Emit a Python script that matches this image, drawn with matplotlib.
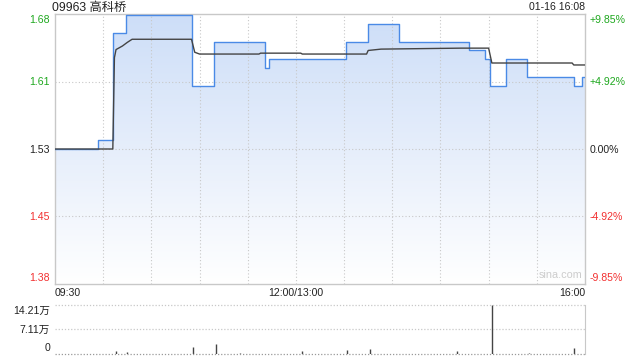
import numpy as np
import matplotlib
matplotlib.use("Agg")
import matplotlib.pyplot as plt
from matplotlib.patches import Polygon
from matplotlib.colors import LinearSegmentedColormap

plt.rcParams['font.family'] = ['Liberation Sans', 'Noto Sans CJK SC', 'DejaVu Sans']

# ---------------- data ----------------
title = "09963 高科桥"
stamp = "01-16 16:08"
prev_close = 1.53
limit_pct = 9.85
mid_pct = 4.92

price_t = [0, 27, 36, 44, 85, 99, 131, 133, 181, 195, 214, 258, 268, 271, 281, 294, 323, 328, 330]
price_v = [1.53, 1.54, 1.66, 1.68, 1.60, 1.65, 1.62, 1.63, 1.65, 1.67, 1.65, 1.64, 1.63, 1.60, 1.63, 1.61, 1.60, 1.61, 1.61]

avg_t = [0, 36, 37, 38, 40, 42, 45, 48, 85, 87, 90, 127, 128, 153, 154, 194, 195, 203, 253, 270, 272, 322, 323, 330]
avg_v = [1.53, 1.53, 1.632, 1.641, 1.643, 1.645, 1.649, 1.6525, 1.6525, 1.638, 1.636, 1.636, 1.637, 1.637, 1.636,
         1.636, 1.640, 1.6415, 1.6426, 1.6426, 1.626, 1.626, 1.6238, 1.6238]

vol_t = [38, 45, 86, 100, 115, 154, 182, 196, 250, 272, 295, 323]
vol_v = [0.9, 0.6, 2.1, 2.9, 0.3, 0.8, 1.1, 1.5, 0.9, 14.21, 0.3, 1.6]  # 万

x_ticks = [0, 150, 330]
x_labels = ["09:30", "12:00/13:00", "16:00"]
vol_ticks = [0, 7.11, 14.21]
vol_labels = ["0", "7.11万", "14.21万"]

# ---------------- styling ----------------
GREEN = "#1fa81f"
RED = "#f23030"
DARK = "#222222"
BORDER = "#c8c8c8"
GRID = "#c8c8c8"
LINE = "#4a8ae6"
AVG = "#444444"
FS = 7.6

W, H = 640, 360
fig = plt.figure(figsize=(6.4, 3.6), dpi=100)

def rect(l, t, r, b):
    return [l / W, 1 - b / H, (r - l) / W, (b - t) / H]

ax = fig.add_axes(rect(55, 14, 585, 284))
vx = fig.add_axes(rect(55, 305, 585, 354))

lo = prev_close * (1 - limit_pct / 100)
hi = prev_close * (1 + limit_pct / 100)
ax.set_xlim(0, 330)
ax.set_ylim(lo, hi)

# gradient fill under price line
grad = np.linspace(0, 1, 256).reshape(-1, 1)
cmap = LinearSegmentedColormap.from_list("f", ["#ffffff", "#e6eefb", "#cddef8"])
im = ax.imshow(grad, aspect='auto', cmap=cmap, origin='lower',
               extent=[0, 330, lo, hi], zorder=1)
st = []
for i in range(len(price_t)):
    if i > 0:
        st.append((price_t[i], price_v[i - 1]))
    st.append((price_t[i], price_v[i]))
verts = [(price_t[0], lo)] + st + [(price_t[-1], lo)]
poly = Polygon(verts, closed=True, facecolor='none', edgecolor='none', transform=ax.transData)
ax.add_patch(poly)
im.set_clip_path(poly)

# grid
mid_up = prev_close * (1 + mid_pct / 100)
mid_dn = prev_close * (1 - mid_pct / 100)
for yv in [mid_up, prev_close, mid_dn]:
    ax.axhline(yv, color=GRID, lw=0.8, ls=(0, (1, 2)), zorder=2)
for xv in range(30, 330, 30):
    ax.axvline(xv, color=GRID, lw=0.8, ls=(0, (1, 2)), zorder=2)

ax.plot(price_t, price_v, drawstyle='steps-post', color=LINE, lw=1.0, zorder=4)
ax.plot(avg_t, avg_v, color=AVG, lw=1.0, zorder=5)

for s in ax.spines.values():
    s.set_color(BORDER)
    s.set_linewidth(1.0)
ax.set_xticks([])
ax.set_yticks([])

left_vals = [(1.68, GREEN, 20), (1.61, GREEN, 82), (1.53, DARK, 150),
             (1.45, RED, 217), (1.38, RED, 278)]
right_lbl = ["+9.85%", "+4.92%", "0.00%", "-4.92%", "-9.85%"]
for (lab, c, ypix), rl in zip(left_vals, right_lbl):
    fig.text(50 / W, 1 - ypix / H, f"{lab:.2f}", ha='right', va='center', color=c, fontsize=FS)
    fig.text(590 / W, 1 - ypix / H, rl, ha='left', va='center', color=c, fontsize=FS)

fig.text(55 / W, 1 - 293 / H, x_labels[0], ha='left', va='center', color=DARK, fontsize=FS)
fig.text(296 / W, 1 - 293 / H, x_labels[1], ha='center', va='center', color=DARK, fontsize=FS)
fig.text(585 / W, 1 - 293 / H, x_labels[2], ha='right', va='center', color=DARK, fontsize=FS)

fig.text(52 / W, 1 - 7.5 / H, title, ha='left', va='center', color=DARK, fontsize=8.8)
fig.text(585 / W, 1 - 7.5 / H, stamp, ha='right', va='center', color=DARK, fontsize=FS)
fig.text(582 / W, 1 - 275 / H, "sina.com", ha='right', va='center',
         color="#cccccc", fontsize=7.8, zorder=6)

# volume panel
vx.set_xlim(0, 330)
vx.set_ylim(0, 14.21)
vx.vlines(vol_t, 0, vol_v, color="#444444", lw=1.0)
for yv in [7.11, 14.21]:
    vx.axhline(yv, color=GRID, lw=0.9, ls=(0, (1, 1.5)), clip_on=False)
vx.axhline(0, color="#999999", lw=0.9, ls=(0, (1, 1.5)), clip_on=False)
for k in ['top', 'left', 'bottom']:
    vx.spines[k].set_visible(False)
vx.spines['right'].set_color(BORDER)
vx.set_xticks([])
vx.set_yticks([])
for lab, ypix in [("14.21万", 310.5), ("7.11万", 330), ("0", 348)]:
    fig.text(50 / W, 1 - ypix / H, lab, ha='right', va='center', color=DARK, fontsize=FS)

fig.savefig("out.png", dpi=100)
